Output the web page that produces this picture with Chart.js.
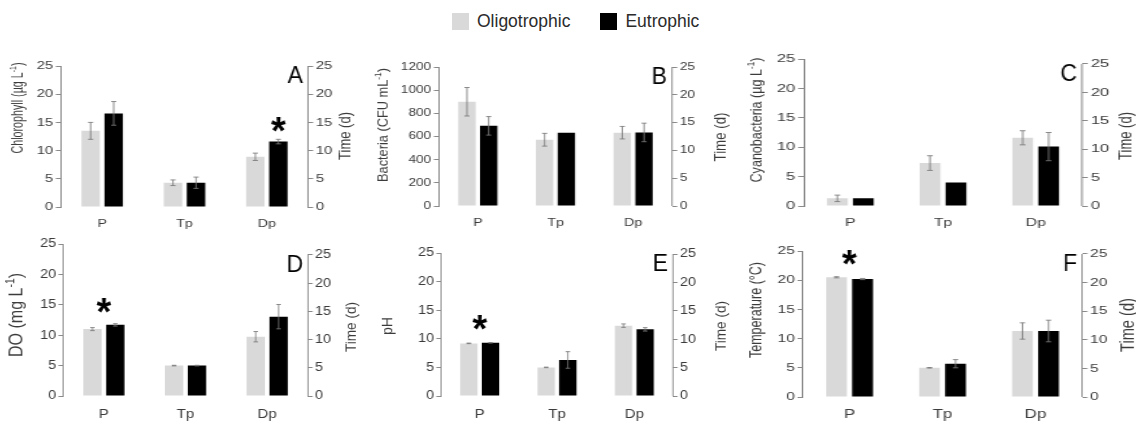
<!DOCTYPE html>
<html>
<head>
<meta charset="utf-8">
<script src="https://cdn.jsdelivr.net/npm/chart.js@4.4.1/dist/chart.umd.min.js"></script>
<style>
  body { margin: 0; background: #fff; width: 1136px; height: 421px; overflow: hidden; position: relative;
         font-family: "Liberation Sans", Arial, sans-serif; }
  .panel { position: absolute; transform-origin: 0 0; }
  .panel canvas { display: block; }
  #legend { position: absolute; left: 452px; top: 12px; display: flex; align-items: center;
            font-size: 17.5px; color: #2b2b2b; line-height: 19px; }
  #legend .item { display: flex; align-items: center; margin-right: 30px; }
  #legend .sw { width: 17px; height: 17px; margin-right: 8px; }
</style>
</head>
<body>
<div id="legend"></div>
<script>
// sampling phases and the two lake types
const phases = ['P', 'Tp', 'Dp'];
const seriesNames = ['Oligotrophic', 'Eutrophic'];
const seriesColors = ['#d9d9d9', '#000000'];
const timeTicks = [0, 5, 10, 15, 20, 25];

// means and standard deviations per phase
const chlOligo = [13.5, 4.3, 8.9];
const chlOligoSd = [1.5, 0.5, 0.65];
const chlEutro = [16.6, 4.3, 11.6];
const chlEutroSd = [2.1, 1.0, 0.4];

const bacOligo = [900, 572, 633];
const bacOligoSd = [123, 55, 54];
const bacEutro = [692, 633, 635];
const bacEutroSd = [80, 0, 80];

const cyanoOligo = [1.3, 7.3, 11.6];
const cyanoOligoSd = [0.55, 1.25, 1.2];
const cyanoEutro = [1.3, 4.0, 10.1];
const cyanoEutroSd = [0, 0, 2.4];

const doOligo = [11.0, 5.0, 9.75];
const doOligoSd = [0.25, 0.05, 0.85];
const doEutro = [11.7, 5.0, 13.05];
const doEutroSd = [0.2, 0.05, 2.0];

const phOligo = [9.2, 5.0, 12.3];
const phOligoSd = [0.05, 0.05, 0.3];
const phEutro = [9.3, 6.3, 11.65];
const phEutroSd = [0.05, 1.45, 0.3];

const tempOligo = [20.5, 5.0, 11.3];
const tempOligoSd = [0.1, 0.05, 1.4];
const tempEutro = [20.2, 5.7, 11.3];
const tempEutroSd = [0.1, 0.7, 1.85];

// significance marks: phase, height on the left axis, bar index (null = centred on the pair)
const chlStars = [{ at: 'Dp', y: 14.7, over: 1 }];
const doStars = [{ at: 'P', y: 15.0, over: null }];
const phStars = [{ at: 'P', y: 13.0, over: null }];
const tempStars = [{ at: 'P', y: 23.9, over: null }];

const FONT = '"Liberation Sans", Arial, sans-serif';
const TXT = '#3c3c3c';
const AXIS = '#8a8a8a';
const ERR = '#7a7a7a';

// panel frames in page pixels; sx = horizontal stretch of each panel
// lt/ly/ll/lk: left title centre x, centre y, length, extra thickness; rt/ry/rl: time axis title
// ^{...} in a title marks a superscript
const panels = [
  { letter: 'A', yTitle: 'Chlorophyll (µg L^{-1})', yMax: 25, yStep: 5, o: chlOligo, os: chlOligoSd, e: chlEutro, es: chlEutroSd, stars: chlStars,
    L: 61, R: 308, T: 66, B: 207, Tr: 66, sx: 1.3, tk: 11.5, xk: 11,
    lt: 18, ly: 108, ll: 91, lk: 1.15, rt: 345, ry: 136, rl: 48 },
  { letter: 'B', yTitle: 'Bacteria (CFU mL^{-1})', yMax: 1200, yStep: 200, o: bacOligo, os: bacOligoSd, e: bacEutro, es: bacEutroSd, stars: [],
    L: 439, R: 672, T: 67, B: 206, Tr: 67, sx: 1.3, tk: 10.5, xk: 11,
    lt: 383, ly: 125, ll: 114, lk: 0.92, rt: 721, ry: 137, rl: 49 },
  { letter: 'C', yTitle: 'Cyanobacteria (µg L^{-1})', yMax: 25, yStep: 5, o: cyanoOligo, os: cyanoOligoSd, e: cyanoEutro, es: cyanoEutroSd, stars: [],
    L: 804, R: 1082, T: 59, B: 206, Tr: 64, sx: 1.45, tk: 11.5, xk: 11,
    lt: 757, ly: 120, ll: 125, lk: 0.88, rt: 1126, ry: 136, rl: 48 },
  { letter: 'D', yTitle: 'DO (mg L^{-1})', yMax: 25, yStep: 5, o: doOligo, os: doOligoSd, e: doEutro, es: doEutroSd, stars: doStars,
    L: 63, R: 308, T: 244, B: 396, Tr: 255, sx: 1.15, tk: 12.5, xk: 13,
    lt: 17, ly: 315, ll: 84, lk: 1, rt: 352, ry: 327, rl: 50 },
  { letter: 'E', yTitle: 'pH', yMax: 25, yStep: 5, o: phOligo, os: phOligoSd, e: phEutro, es: phEutroSd, stars: phStars,
    L: 441, R: 673, T: 253, B: 396, Tr: 254, sx: 1.15, tk: 12.5, xk: 13,
    lt: 388, ly: 326, ll: 18, lk: 0.9, rt: 721, ry: 326, rl: 50 },
  { letter: 'F', yTitle: 'Temperature (°C)', yMax: 25, yStep: 5, o: tempOligo, os: tempOligoSd, e: tempEutro, es: tempEutroSd, stars: tempStars,
    L: 803, R: 1082, T: 251, B: 397, Tr: 254, sx: 1.35, tk: 11.5, xk: 12.5,
    lt: 757, ly: 310, ll: 96, lk: 0.95, rt: 1128, ry: 325, rl: 54 }
];

// shared legend
const legend = document.getElementById('legend');
seriesNames.forEach((name, i) => {
  const item = document.createElement('div');
  item.className = 'item';
  const sw = document.createElement('div');
  sw.className = 'sw';
  sw.style.background = seriesColors[i];
  const label = document.createElement('span');
  label.textContent = name;
  item.appendChild(sw);
  item.appendChild(label);
  legend.appendChild(item);
});

// error bars from the sd arrays
const errorBars = {
  id: 'errorBars',
  afterDatasetsDraw(chart) {
    const ctx = chart.ctx;
    const y = chart.scales.y;
    chart.data.datasets.forEach((ds, i) => {
      chart.getDatasetMeta(i).data.forEach((bar, j) => {
        const sd = ds.sd[j];
        if (!sd) return;
        const top = y.getPixelForValue(ds.data[j] + sd);
        const bot = y.getPixelForValue(ds.data[j] - sd);
        ctx.save();
        ctx.strokeStyle = ERR;
        ctx.lineWidth = 0.85;
        ctx.beginPath();
        ctx.moveTo(bar.x, top); ctx.lineTo(bar.x, bot);
        ctx.moveTo(bar.x - 2, top); ctx.lineTo(bar.x + 2, top);
        ctx.moveTo(bar.x - 2, bot); ctx.lineTo(bar.x + 2, bot);
        ctx.stroke();
        ctx.restore();
      });
    });
  }
};

// split 'abc^{xy}d' into plain and superscript runs
function titleRuns(text) {
  return text.split(/\^\{([^}]*)\}/).map((t, i) => ({ t, sup: i % 2 === 1 })).filter(r => r.t);
}

// rotated axis title (reads bottom to top), sized so it runs the given length
function drawTitle(ctx, text, x, y, len, thick) {
  const runs = titleRuns(text);
  const widthAt = size => runs.reduce((sum, r) => {
    ctx.font = (r.sup ? size * 0.65 : size).toFixed(2) + 'px ' + FONT;
    return sum + ctx.measureText(r.t).width;
  }, 0);
  ctx.save();
  const size = 20 * len / widthAt(20);
  const total = widthAt(size);
  ctx.fillStyle = TXT;
  ctx.textAlign = 'left';
  ctx.textBaseline = 'middle';
  ctx.translate(x, y);
  ctx.rotate(-Math.PI / 2);
  ctx.scale(1, thick || 1);
  let pos = -total / 2;
  runs.forEach(r => {
    const s = r.sup ? size * 0.65 : size;
    ctx.font = s.toFixed(2) + 'px ' + FONT;
    ctx.fillText(r.t, pos, r.sup ? -size * 0.33 : 0);
    pos += ctx.measureText(r.t).width;
  });
  ctx.restore();
}

// right axis line, axis titles, panel letter and asterisks
function panelMarks(p, x0, y0) {
  return {
    id: 'panelMarks',
    afterDraw(chart) {
      const ctx = chart.ctx;
      const x = chart.scales.x, y = chart.scales.y, y1 = chart.scales.y1;
      const top25 = y1.getPixelForValue(25);

      ctx.save();
      ctx.strokeStyle = AXIS;
      ctx.lineWidth = 1;
      ctx.beginPath();
      ctx.moveTo(y1.left, y1.getPixelForValue(0));
      ctx.lineTo(y1.left, top25);
      ctx.stroke();
      ctx.restore();

      drawTitle(ctx, p.yTitle, (p.lt - x0) / p.sx, p.ly - y0, p.ll, p.lk);
      drawTitle(ctx, 'Time (d)', (p.rt - x0) / p.sx, p.ry - y0, p.rl, 1);

      ctx.save();
      ctx.translate(y1.left - 5 / p.sx, top25 + 17);
      ctx.scale(1 / p.sx, 1);
      ctx.fillStyle = '#000';
      ctx.font = '23px ' + FONT;
      ctx.textAlign = 'right';
      ctx.textBaseline = 'alphabetic';
      ctx.fillText(p.letter, 0, 0);
      ctx.restore();

      p.stars.forEach(s => {
        const ci = phases.indexOf(s.at);
        const cx = s.over === null ? x.getPixelForValue(ci) : chart.getDatasetMeta(s.over).data[ci].x;
        const cy = y.getPixelForValue(s.y);
        ctx.save();
        ctx.translate(cx, cy);
        ctx.scale(1 / p.sx, 1);
        ctx.fillStyle = '#000';
        ctx.font = 'bold 38px ' + FONT;
        ctx.textAlign = 'center';
        ctx.textBaseline = 'alphabetic';
        ctx.fillText('*', 0, 20);
        ctx.restore();
      });
    }
  };
}

panels.forEach(p => {
  const sx = p.sx;
  const x0 = p.lt - 20;
  const x1 = p.rt + 20;
  const y0 = p.T - 12;
  const h = p.B + 26 - y0;
  const w = Math.ceil((x1 - x0) / sx);
  const lw = (p.L - x0) / sx;
  const plotW = (p.R - p.L) / sx;
  const rw = w - lw - plotW;
  const rMax = Math.round(25 * (p.B - p.T) / (p.B - p.Tr) * 100) / 100;

  const wrap = document.createElement('div');
  wrap.className = 'panel';
  wrap.style.left = x0 + 'px';
  wrap.style.top = y0 + 'px';
  wrap.style.transform = 'scaleX(' + sx + ')';
  const cv = document.createElement('canvas');
  cv.width = w;
  cv.height = h;
  wrap.appendChild(cv);
  document.body.appendChild(wrap);

  new Chart(cv, {
    type: 'bar',
    data: {
      labels: phases,
      datasets: [
        { label: seriesNames[0], data: p.o, sd: p.os, backgroundColor: seriesColors[0] },
        { label: seriesNames[1], data: p.e, sd: p.es, backgroundColor: seriesColors[1] }
      ]
    },
    options: {
      responsive: false,
      animation: false,
      devicePixelRatio: 1,
      layout: { padding: { top: 12, bottom: 0, left: 0, right: 0 } },
      datasets: { bar: { categoryPercentage: 0.56, barPercentage: 0.8 } },
      plugins: { legend: { display: false }, tooltip: { enabled: false } },
      scales: {
        x: {
          grid: { display: false, drawTicks: false },
          border: { display: false },
          ticks: { color: TXT, font: { size: p.xk, family: FONT }, padding: 10.5 },
          afterFit: s => { s.height = 26; }
        },
        y: {
          position: 'left',
          min: 0, max: p.yMax,
          ticks: { stepSize: p.yStep, color: TXT, font: { size: p.tk, family: FONT }, padding: 2, callback: v => String(v) },
          grid: { drawOnChartArea: false, drawTicks: true, tickLength: 4, color: AXIS, tickColor: AXIS },
          border: { display: true, color: AXIS },
          afterFit: s => { s.width = lw; }
        },
        y1: {
          position: 'right',
          min: 0, max: rMax,
          ticks: { stepSize: 5, includeBounds: false, color: TXT, font: { size: p.tk, family: FONT }, padding: 2, callback: v => String(v) },
          afterBuildTicks: s => { s.ticks = timeTicks.map(v => ({ value: v })); },
          grid: { drawOnChartArea: false, drawTicks: true, tickLength: 4, color: AXIS, tickColor: AXIS },
          border: { display: false },
          afterFit: s => { s.width = rw; }
        }
      }
    },
    plugins: [errorBars, panelMarks(p, x0, y0)]
  });
});
</script>
</body>
</html>
